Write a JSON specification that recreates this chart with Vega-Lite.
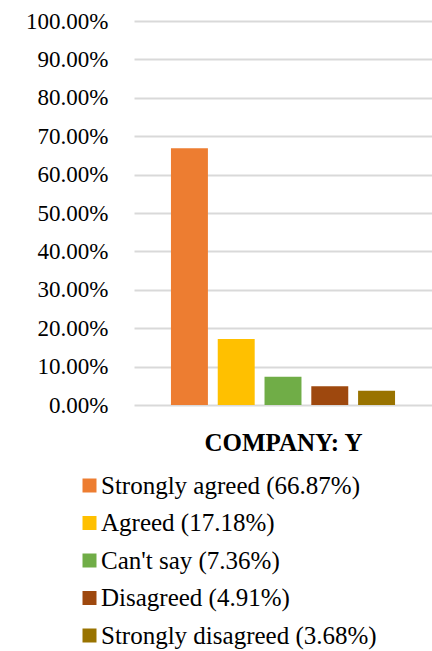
{
  "$schema": "https://vega.github.io/schema/vega-lite/v6.json",
  "width": 298,
  "height": 384,
  "autosize": {"type": "none"},
  "padding": {"left": 134, "top": 21, "right": 0, "bottom": 246},
  "background": "white",
  "data": {
    "values": [
      {"label": "Strongly agreed (66.87%)", "share": 0.6687},
      {"label": "Agreed  (17.18%)", "share": 0.1718},
      {"label": "Can't say (7.36%)", "share": 0.0736},
      {"label": "Disagreed (4.91%)", "share": 0.0491},
      {"label": "Strongly disagreed  (3.68%)", "share": 0.0368}
    ]
  },
  "mark": {"type": "bar"},
  "encoding": {
    "x": {
      "field": "label",
      "type": "nominal",
      "sort": null,
      "scale": {"paddingInner": 0.21, "paddingOuter": 0.79},
      "axis": {
        "labels": false,
        "ticks": false,
        "domain": false,
        "title": "COMPANY:  Y",
        "titleFont": "Liberation Serif",
        "titleFontWeight": "bold",
        "titleFontSize": 25,
        "titleColor": "#000000",
        "titlePadding": 25
      }
    },
    "y": {
      "field": "share",
      "type": "quantitative",
      "scale": {"domain": [0, 1], "nice": false},
      "axis": {
        "values": [0, 0.1, 0.2, 0.3, 0.4, 0.5, 0.6, 0.7, 0.8, 0.9, 1],
        "format": ".2%",
        "title": null,
        "domain": false,
        "ticks": false,
        "labelFont": "Liberation Serif",
        "labelFontSize": 23,
        "labelColor": "#000000",
        "labelPadding": 26,
        "gridColor": "#d9d9d9",
        "gridWidth": 2
      }
    },
    "color": {
      "field": "label",
      "type": "nominal",
      "sort": null,
      "scale": {"range": ["#ED7D31", "#FFC000", "#70AD47", "#9E480E", "#997300"]},
      "legend": {
        "title": null,
        "orient": "none",
        "legendX": -57,
        "legendY": 452,
        "direction": "vertical",
        "symbolType": "square",
        "symbolSize": 196,
        "symbolStrokeWidth": 0,
        "labelFont": "Liberation Serif",
        "labelFontSize": 25,
        "labelColor": "#000000",
        "labelOffset": -1,
        "labelLimit": 400,
        "rowPadding": 11.5
      }
    }
  },
  "config": {"view": {"stroke": null}}
}
